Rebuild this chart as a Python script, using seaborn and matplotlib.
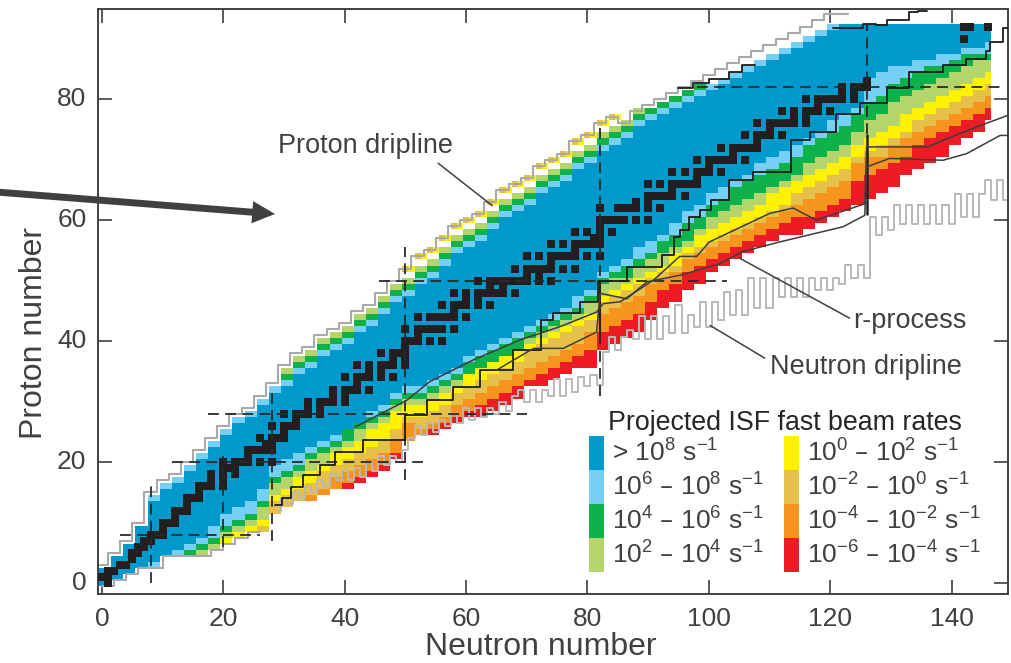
import matplotlib
matplotlib.use("Agg")
import matplotlib.pyplot as plt
from matplotlib.colors import ListedColormap
from matplotlib.patches import FancyArrowPatch, Patch
import numpy as np
import seaborn as sns

# columns are two neutrons wide: N = 0, 2, ... 146
col_n = list(range(0, 148, 2))

# lowest proton number of each rate band
blue_low = [0, 1, 2, 3, 4, 5, 6, 7, 8, 10, 12, 13, 14, 16,
            20, 21, 22, 23, 24, 25, 26, 27, 29, 30, 32,
            33, 33, 34, 35, 36, 38, 39, 40, 41, 42, 43, 44, 45, 46, 48, 49,
            52, 53, 54, 56, 57, 58, 60, 62, 63, 65, 66, 67, 68, 70, 71, 72, 73, 74, 75, 77, 78, 79,
            84, 85, 86, 86, 87, 87, 88, 88, 89, 89, 90]
lb_low = [0, 1, 2, 3, 3, 5, 5, 6, 7, 8, 10, 11, 12, 14,
          18, 19, 20, 22, 23, 24, 26, 27, 28, 29, 31,
          32, 32, 33, 34, 35, 37, 38, 39, 40, 41, 42, 43, 44, 45, 46, 48,
          51, 52, 53, 54, 55, 57, 58, 60, 61, 63, 64, 66, 67, 68, 69, 70, 71, 73, 74, 75, 76, 78,
          80, 81, 83, 84, 85, 86, 86, 87, 88, 88, 88]
green_low = [0, 1, 2, 3, 3, 5, 5, 5, 6, 7, 9, 10, 11, 13,
             17, 18, 19, 21, 22, 23, 24, 26, 27, 28, 30,
             31, 31, 32, 33, 34, 35, 36, 37, 38, 39, 41, 42, 43, 44, 45, 47,
             50, 51, 51, 53, 54, 55, 56, 57, 59, 61, 62, 63, 64, 65, 66, 67, 68, 70, 71, 72, 73, 75,
             77, 78, 80, 81, 82, 83, 84, 85, 86, 87, 87]
lg_low = [0, 1, 2, 3, 3, 5, 5, 5, 5, 6, 8, 9, 10, 11,
          15, 16, 18, 19, 20, 22, 23, 24, 26, 27, 29,
          30, 30, 31, 32, 33, 35, 36, 37, 38, 39, 40, 41, 42, 43, 44, 45,
          48, 49, 50, 51, 52, 53, 55, 56, 58, 59, 60, 61, 62, 63, 65, 66, 67, 68, 69, 70, 71, 73,
          74, 75, 76, 78, 79, 80, 81, 82, 83, 84, 85]
yellow_low = [0, 1, 2, 3, 3, 5, 5, 5, 5, 6, 7, 8, 9, 10,
              14, 15, 16, 17, 19, 20, 21, 22, 23, 24, 26,
              28, 28, 29, 30, 32, 33, 34, 35, 36, 37, 39, 40, 41, 42, 43, 44,
              47, 48, 49, 50, 51, 52, 53, 55, 56, 57, 58, 59, 60, 61, 62, 63, 65, 66, 67, 68, 69, 71,
              72, 73, 74, 75, 77, 78, 79, 80, 81, 82, 83]
gold_low = [0, 1, 2, 3, 3, 5, 5, 5, 5, 6, 7, 8, 9, 9,
            12, 13, 14, 15, 16, 18, 19, 20, 21, 22, 24,
            27, 26, 27, 28, 30, 31, 32, 33, 34, 35, 36, 37, 38, 39, 40, 42,
            45, 46, 47, 48, 50, 51, 52, 54, 55, 56, 57, 58, 59, 60, 61, 62, 63, 64, 65, 66, 67, 70,
            71, 71, 73, 74, 75, 76, 77, 78, 79, 80, 81]
orange_low = [0, 1, 2, 3, 3, 5, 5, 5, 5, 6, 7, 8, 9, 9,
              12, 13, 14, 14, 15, 16, 17, 18, 19, 20, 22,
              24, 25, 26, 27, 28, 29, 30, 31, 32, 33, 34, 35, 36, 37, 38, 39,
              42, 43, 44, 45, 47, 49, 50, 52, 53, 54, 55, 56, 57, 58, 59, 60, 61, 61, 62, 63, 64, 67,
              68, 69, 70, 71, 73, 74, 75, 76, 77, 78, 79]
red_low = [0, 1, 2, 3, 3, 5, 5, 5, 5, 6, 7, 8, 9, 9,
           12, 13, 14, 14, 15, 16, 16, 17, 18, 19, 21,
           24, 25, 25, 26, 27, 28, 28, 29, 30, 31, 33, 33, 34, 35, 36, 36,
           39, 40, 41, 42, 44, 46, 47, 49, 50, 52, 53, 54, 55, 56, 57, 58, 58, 59, 60, 61, 62, 63,
           64, 65, 66, 68, 69, 70, 71, 73, 74, 75, 77]

# highest proton number of each band on the proton-rich side
blue_top = [2, 4, 6, 9, 13, 15, 16, 18, 20, 22, 24, 26, 27, 29,
            31, 32, 34, 35, 37, 38, 39, 41, 42, 44, 46,
            47, 49, 50, 52, 54, 55, 56, 58, 60, 61, 62, 64, 65, 66, 68, 69,
            71, 72, 73, 75, 76, 77, 78, 79, 80, 81, 82, 83, 84, 85, 86, 87, 88, 89, 90, 91, 92, 92,
            92, 92, 92, 92, 92, 92, 92, 92, 92, 92, 92]
lb_top = [2, 4, 6, 9, 14, 16, 17, 19, 21, 23, 25, 27, 28, 30,
          32, 33, 35, 36, 38, 39, 40, 42, 43, 45, 47,
          48, 50, 51, 53, 55, 56, 57, 59, 61, 62, 63, 65, 66, 67, 69, 70,
          72, 73, 74, 76, 77, 78, 79, 80, 81, 82, 83, 84, 85, 86, 87, 88, 89, 90, 91, 92, 92, 92,
          92, 92, 92, 92, 92, 92, 92, 92, 92, 92, 92]
green_top = [2, 4, 6, 9, 14, 16, 17, 19, 21, 23, 25, 27, 28, 30,
             32, 34, 36, 37, 39, 40, 41, 43, 44, 46, 48,
             49, 51, 52, 54, 56, 57, 58, 60, 62, 63, 64, 66, 67, 68, 70, 71,
             73, 74, 75, 77, 78, 79, 80, 81, 82, 82, 83, 84, 85, 86, 87, 88, 89, 90, 91, 92, 92, 92,
             92, 92, 92, 92, 92, 92, 92, 92, 92, 92, 92]
lg_top = [2, 4, 6, 9, 14, 16, 17, 19, 21, 23, 25, 27, 28, 30,
          32, 35, 37, 38, 40, 41, 42, 44, 45, 47, 49,
          50, 52, 53, 55, 57, 58, 59, 61, 63, 64, 65, 67, 68, 69, 71, 72,
          74, 75, 76, 78, 78, 79, 80, 81, 82, 82, 83, 84, 85, 86, 87, 88, 89, 90, 91, 92, 92, 92,
          92, 92, 92, 92, 92, 92, 92, 92, 92, 92, 92]
gold_top = [0] * 25 + [52, 54, 55, 57, 59, 60, 61, 63, 65, 66, 67, 69, 70, 71, 73, 74, 76, 77] + [0] * 31

# stable nuclides: proton number -> neutron numbers
stable = {0: [1], 1: [0, 1], 2: [1, 2], 3: [3, 4], 4: [5], 5: [5, 6], 6: [6, 7], 7: [7, 8], 8: [8, 9, 10], 9: [10],
          10: [10, 11, 12], 11: [12], 12: [12, 13, 14], 13: [14], 14: [14, 15, 16], 15: [16], 16: [16, 17, 18, 20],
          17: [18, 20], 18: [18, 20, 22], 19: [20, 21, 22], 20: [20, 22, 23, 24, 26, 28], 21: [24],
          22: [24, 25, 26, 27, 28], 23: [27, 28], 24: [26, 28, 29, 30], 25: [30], 26: [28, 30, 31, 32], 27: [32],
          28: [30, 32, 33, 34, 36], 29: [34, 36], 30: [34, 36, 37, 38, 40], 31: [38, 40], 32: [38, 40, 41, 42, 44],
          33: [42], 34: [40, 42, 43, 44, 46, 48], 35: [44, 46], 36: [42, 44, 46, 47, 48, 50], 37: [48, 50],
          38: [46, 48, 49, 50], 39: [50], 40: [50, 51, 52, 54, 56], 41: [52], 42: [50, 52, 53, 54, 55, 56, 58],
          44: [52, 54, 55, 56, 57, 58, 60], 45: [58], 46: [56, 58, 59, 60, 62, 64], 47: [60, 62],
          48: [58, 60, 62, 63, 64, 65, 66, 68], 49: [64, 66], 50: [62, 64, 65, 66, 67, 68, 69, 70, 72, 74],
          51: [70, 72], 52: [68, 70, 71, 72, 73, 74, 76, 78], 53: [74], 54: [70, 72, 74, 75, 76, 77, 78, 80, 82],
          55: [78], 56: [74, 76, 78, 79, 80, 81, 82], 57: [81, 82], 58: [78, 80, 82, 84], 59: [82],
          60: [82, 83, 84, 85, 86, 88, 90], 62: [82, 85, 86, 87, 88, 90, 92], 63: [88, 90],
          64: [90, 91, 92, 93, 94, 96], 65: [94], 66: [90, 92, 94, 95, 96, 97, 98], 67: [98],
          68: [94, 96, 98, 99, 100, 102], 69: [100], 70: [98, 100, 101, 102, 103, 104, 106], 71: [104],
          72: [102, 104, 105, 106, 107, 108], 73: [108], 74: [106, 108, 109, 110, 112], 75: [110],
          76: [108, 110, 111, 112, 113, 114, 116], 77: [114, 116], 78: [112, 114, 116, 117, 118, 120], 79: [118],
          80: [116, 118, 119, 120, 121, 122, 124], 81: [122, 124], 82: [122, 124, 125, 126], 83: [126],
          90: [142], 92: [142, 143, 146]}

# proton dripline outline
proton_edge = [3, 5, 7, 10, 15, 17, 18, 20, 22, 24, 26, 28, 29, 31, 33,
               36, 38, 39, 41, 42, 43, 45, 46, 48, 50,
               52, 54, 55, 57, 59, 60, 61, 63, 65, 66, 67, 69, 70, 71, 73, 74, 76, 77,
               76, 78, 79, 80, 81, 82, 83, 84, 85, 86, 87, 88, 89, 90, 91, 92, 93, 94, 94, 94]

# neutron dripline, one value per N starting at N=29
drip_z = [12, 14, 13, 15, 14, 16, 15, 17, 16, 18, 17, 18.5, 17, 19, 17.5, 20, 18.5, 21, 19.5, 21, 20, 22,
          24, 26, 24.5, 26.5, 25, 27, 26, 28, 26.5, 29, 27, 29, 27.5, 29, 28, 30, 28.5, 31,
          32, 30, 32, 30, 32, 31, 33.7, 31, 33.7, 31.6, 34, 32.5, 34.4, 32.8,
          38.2, 40.6, 38.5, 40.6, 41.8, 40.4, 44.2, 40.4, 44.2, 40.4, 44.2, 41.3, 46, 41.3,
          44.3, 42.4, 46.5, 42.4, 46.5, 43.5, 48.2, 44.3, 48.4, 44.3, 50.4, 45.4, 50.4, 45.4, 50.4,
          47.3, 50.4, 47.3, 50.4, 47.3, 50.4, 48.4, 50.4, 48.4, 50.4, 49.5, 52.6, 50.4, 52.6, 50.4,
          60.5, 57.5, 60.5, 58.3, 62.5, 59.4, 62.5, 59.4, 62.5, 59.4, 62.5, 59.4, 62.5, 59.4,
          64.4, 60.5, 64.4, 60.5, 64.4, 66.6, 63.3, 66.6, 63.3]
drip_n = list(range(29, 29 + len(drip_z)))

# black staircase along the neutron-rich side
limit_n = [28.5, 29.6, 31.2, 33.2, 35.9, 38.4, 43, 49.9, 53.5, 57.9, 62.3, 67.8, 72.3, 74.4, 78.8, 81.8,
           86.5, 92.3, 94.2, 95.2, 96.8, 98.5, 100.4, 103.4, 107.3, 113.6, 116.6, 121, 124.9, 129.3, 133,
           134.5, 138.6, 142.4, 145.7, 146.3, 148.4, 150]
limit_z = [12.9, 14, 15.9, 17.8, 19.5, 21.7, 23.6, 27.8, 30.2, 32.4, 35.2, 38.5, 43.5, 44.6, 46.5, 50,
           52.3, 54.2, 57.2, 58.3, 60.5, 61.6, 63.3, 66.6, 68, 73.2, 74.6, 77.6, 79.3, 81.8, 84.5,
           84.5, 85.6, 86.7, 88, 89.5, 91.7, 91.7]

# black staircase on the proton-rich side
upper_a_n = [95, 97.4, 100.1, 103.4, 105.4, 107.6]
upper_a_z = [81.8, 82.6, 83.4, 84.5, 85.6, 85.6]
upper_b_n = [120.5, 125.4, 127.5, 129.3, 133, 134.5, 136]
upper_b_z = [91.7, 92.5, 92.2, 93, 94.4, 94.6, 94.6]

# r-process paths
rproc_a_n = [41.7, 50.2, 54, 61.2, 68.9, 75.5, 81.5, 82.6, 85.4, 90.9, 95.2, 98, 100.1, 110, 113.9, 117.7, 125.7,
             126, 136.1, 138.6, 144.1, 149.5]
rproc_a_z = [25.8, 30.2, 33.3, 36.9, 40.2, 42.4, 44.8, 46.2, 46.5, 50.1, 54, 54, 56.4, 61.1, 62, 60, 62.7,
             72.1, 72.1, 73.2, 75.4, 77.4]
rproc_b_n = [65, 71.1, 76, 81.5, 82.1, 86.5, 89.8, 95.3, 101.8, 105.6, 111.7, 122.1, 125.7,
             126, 129.8, 138.6, 142.5, 148, 149.5]
rproc_b_z = [35.2, 38.8, 38.8, 41.5, 47.9, 47, 49.8, 50.9, 52.8, 54.8, 56.4, 58.9, 60.8,
             68.8, 70.2, 69.9, 71, 74, 74]

# magic number guides: value, start, end
magic_z = [(8, 3, 26), (20, 11.5, 53), (28, 17.5, 70), (50, 45.6, 103), (82, 98, 148)]
magic_n = [(8, 0, 16), (20, 6, 21), (28, 7, 32), (50, 17, 55.6), (82, 31, 75.7), (126, 74.3, 92.5)]

band_labels = ["> 10$^{8}$ s$^{-1}$", "10$^{6}$ – 10$^{8}$ s$^{-1}$", "10$^{4}$ – 10$^{6}$ s$^{-1}$",
               "10$^{2}$ – 10$^{4}$ s$^{-1}$", "10$^{0}$ – 10$^{2}$ s$^{-1}$", "10$^{-2}$ – 10$^{0}$ s$^{-1}$",
               "10$^{-4}$ – 10$^{-2}$ s$^{-1}$", "10$^{-6}$ – 10$^{-4}$ s$^{-1}$"]
band_colors = ["#0099cc", "#76cff5", "#0fb14a", "#b4d56b", "#fff200", "#e6c14a", "#f7941e", "#ed1c24"]

sns.set_theme(style="ticks")
plt.rcParams["font.family"] = ["Liberation Sans", "DejaVu Sans"]
plt.rcParams["mathtext.default"] = "regular"
ink = "#404040"

# codes: 0 empty, 1-8 rate bands
codes = np.zeros((95, 148), dtype=int)
lows = [blue_low, lb_low, green_low, lg_low, yellow_low, gold_low, orange_low, red_low]
for i, n in enumerate(col_n):
    for band, low in enumerate(lows):
        upper = lows[band - 1][i] if band > 0 else blue_top[i] + 1
        codes[low[i]:upper, n:n + 2] = band + 1
    codes[blue_top[i] + 1:lb_top[i] + 1, n:n + 2] = 2
    codes[lb_top[i] + 1:green_top[i] + 1, n:n + 2] = 3
    codes[green_top[i] + 1:lg_top[i] + 1, n:n + 2] = 4
    if gold_top[i]:
        # gold rim with yellow in it, a white row below
        codes[gold_top[i], n] = 6
        codes[gold_top[i], n + 1] = 5
codes[:, 147] = 0

fig = plt.figure(figsize=(10.11, 6.63), dpi=100)
ax = fig.add_axes([97.5 / 1011, 1 - 594 / 663, 910.5 / 1011, 585 / 663])
sns.heatmap(codes, mask=codes == 0, cmap=ListedColormap(band_colors), vmin=1, vmax=8, cbar=False, ax=ax)

# heatmap cells sit on integers, so the nuclide N, Z is the cell centre
off = 0.5
stable_n = [n for z, neutrons in stable.items() for n in neutrons]
stable_z = [z for z, neutrons in stable.items() for n in neutrons]
sns.scatterplot(x=np.array(stable_n) + off, y=np.array(stable_z) + off, marker="s", s=40, color="#231f20",
                linewidth=0, ax=ax, zorder=3)

ax.plot(np.array(col_n[:len(proton_edge)]) + off - 1, np.array(proton_edge) + off, color="#a9a9a9", lw=1.5,
        drawstyle="steps-post")
ax.plot(np.array(col_n[:14]) + off, np.array(red_low[:14]) - 0.5 + off, color="#a9a9a9", lw=1.5,
        drawstyle="steps-post")
ax.plot(np.array(drip_n) + off, np.array(drip_z) + off, color="#b9b9b9", lw=1.4, drawstyle="steps-mid")
ax.plot([126.5 + off, 126.5 + off], [50.4 + off, 60.5 + off], color="#b9b9b9", lw=1.4)

for v, a, b in magic_z:
    ax.plot([a + off, b + off], [v + off, v + off], color="#2a2a2a", lw=1.3, dashes=(6, 3.5), zorder=4)
for v, a, b in magic_n:
    ax.plot([v + off, v + off], [a + off, b + off], color="#2a2a2a", lw=1.3, dashes=(6, 3.5), zorder=4)
ax.plot([126 + off, 126 + off], [61 + off, 74 + off], color="#222222", lw=1.8, zorder=4)
ax.plot([82 + off, 82 + off], [41 + off, 50 + off], color="#222222", lw=1.5, zorder=4)

ax.plot(np.array(limit_n) + off, np.array(limit_z) + off, color="#1c1c1c", lw=1.3, drawstyle="steps-post", zorder=4)
ax.plot(np.array(upper_a_n) + off, np.array(upper_a_z) + off, color="#1c1c1c", lw=1.3, drawstyle="steps-post")
ax.plot(np.array(upper_b_n) + off, np.array(upper_b_z) + off, color="#1c1c1c", lw=1.3, drawstyle="steps-post")
ax.plot(np.array(rproc_a_n) + off, np.array(rproc_a_z) + off, color="#3d3d3d", lw=1.1, zorder=4)
ax.plot(np.array(rproc_b_n) + off, np.array(rproc_b_z) + off, color="#3d3d3d", lw=1.1, zorder=4)

# leader lines
ax.plot([55.4 + off, 64.3 + off], [69.4 + off, 62.4 + off], color="#404040", lw=1.1)
ax.plot([123.2 + off, 105.1 + off], [43.8 + off, 53.7 + off], color="#404040", lw=1.1)
ax.plot([109.2 + off, 100.2 + off], [37.2 + off, 42.6 + off], color="#404040", lw=1.1)

ax.set_xlim(-0.74 + off, 149.3 + off)
ax.set_ylim(-1.8 + off, 94.9 + off)
ax.set_xticks(np.arange(0, 141, 20) + off)
ax.set_xticklabels([str(v) for v in range(0, 141, 20)], rotation=0, fontsize=19, color=ink)
ax.set_yticks(np.arange(0, 81, 20) + off)
ax.set_yticklabels([str(v) for v in range(0, 81, 20)], rotation=0, fontsize=19, color=ink)
ax.tick_params(axis="both", direction="in", length=10, width=1.2, color=ink, top=True, right=True, pad=8)
ax.tick_params(axis="x", pad=9)
ax.set_xlabel("Neutron number", fontsize=23, color=ink, labelpad=1, x=0.487)
ax.set_ylabel("Proton number", fontsize=23, color=ink, labelpad=6, y=0.446)
for spine in ax.spines.values():
    spine.set_visible(True)
    spine.set_color(ink)
    spine.set_linewidth(1.4)

handles = [Patch(facecolor=c, edgecolor="none") for c in band_colors]
ax.legend(handles, band_labels, ncol=2, title="Projected ISF fast beam rates", title_fontsize=19.3,
          fontsize=19, frameon=False, loc="lower left", bbox_to_anchor=(589 / 1011, 1 - 572 / 663),
          bbox_transform=fig.transFigure, borderpad=0, borderaxespad=0, labelspacing=0, handlelength=0.57,
          handleheight=1.6, handletextpad=0.3, columnspacing=0.75, labelcolor=ink)

fig.text(278 / 1011, 1 - 146 / 663, "Proton dripline", fontsize=19.5, color=ink, va="center")
fig.text(853 / 1011, 1 - 321 / 663, "r-process", fontsize=19.5, color=ink, va="center")
fig.text(770 / 1011, 1 - 367 / 663, "Neutron dripline", fontsize=19.5, color=ink, va="center")

arrow = FancyArrowPatch((-10 / 1011, 1 - 191.5 / 663), (275 / 1011, 1 - 214 / 663), transform=fig.transFigure,
                        arrowstyle="simple,tail_width=0.25,head_width=0.8,head_length=0.82", mutation_scale=20,
                        color="#404040", shrinkA=0, shrinkB=0, lw=0, clip_on=False)
fig.add_artist(arrow)

fig.savefig("out.png", dpi=100)
